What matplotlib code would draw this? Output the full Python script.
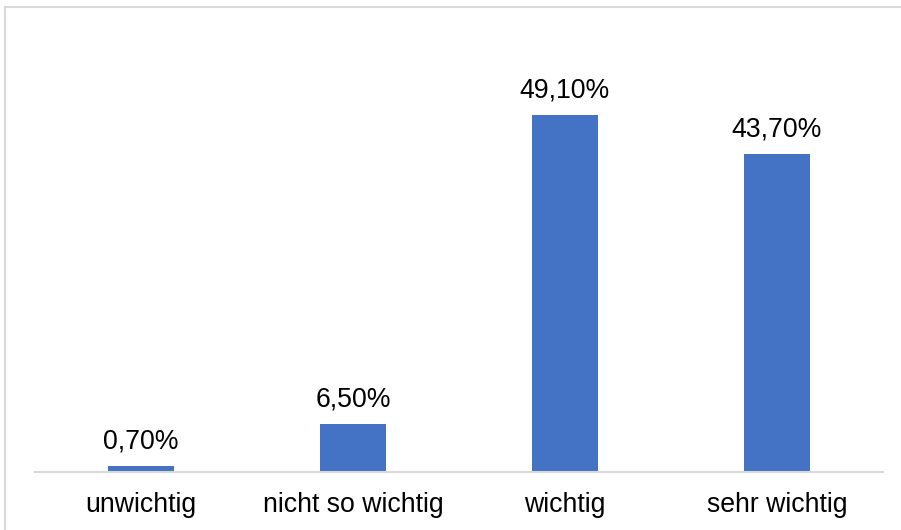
import matplotlib
matplotlib.use("Agg")
import matplotlib.pyplot as plt
from matplotlib.lines import Line2D

categories = ["unwichtig", "nicht so wichtig", "wichtig", "sehr wichtig"]
values = [0.7, 6.5, 49.1, 43.7]
value_labels = ["0,70%", "6,50%", "49,10%", "43,70%"]

plt.rcParams['font.family'] = ['Liberation Sans', 'DejaVu Sans']

W, H = 901, 530
fig = plt.figure(figsize=(W / 100, H / 100), dpi=100)
ax = fig.add_axes([35 / W, (H - 471.5) / H, (883 - 35) / W, (471.5 - 35.8) / H])

x = list(range(len(categories)))
bars = ax.bar(x, values, width=0.315, color="#4472C4", zorder=2)
ax.set_xlim(-0.5, len(categories) - 0.5)
ax.set_ylim(0, 60)

for xi, v, lab in zip(x, values, value_labels):
    ax.annotate(lab, (xi, v), xytext=(0, 8.5), textcoords="offset points",
                ha="center", va="bottom", fontsize=19.2, color="#000000")

ax.set_xticks(x)
ax.set_xticklabels(categories, fontsize=19.2, color="#000000")
ax.tick_params(axis="x", length=0, pad=14.5)
ax.set_yticks([])
for s in ["top", "left", "right"]:
    ax.spines[s].set_visible(False)
ax.spines["bottom"].set_color("#d9d9d9")
ax.spines["bottom"].set_linewidth(1.5)
ax.spines["bottom"].set_zorder(3)

# outer chart border (top and left edges visible)
fig.add_artist(Line2D([4.5 / W, 1.0], [1 - 6.5 / H, 1 - 6.5 / H], transform=fig.transFigure,
                      color="#d9d9d9", linewidth=1.5))
fig.add_artist(Line2D([4.5 / W, 4.5 / W], [0, 1 - 6.5 / H], transform=fig.transFigure,
                      color="#d9d9d9", linewidth=1.5))

fig.savefig("out.png", dpi=100)
